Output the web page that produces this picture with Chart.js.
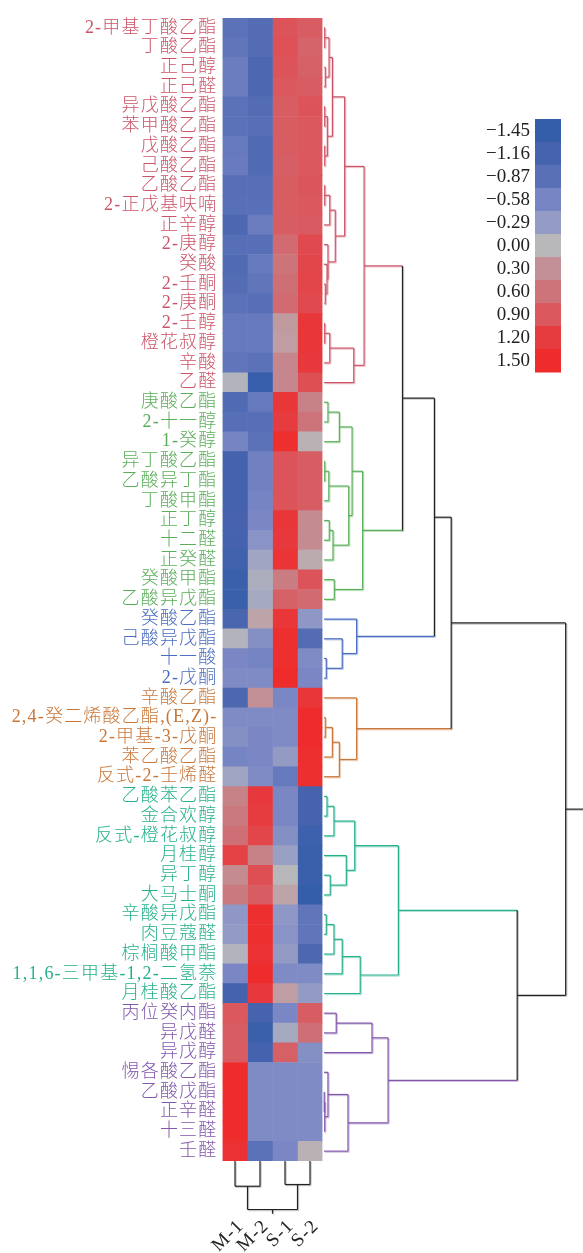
<!DOCTYPE html>
<html><head><meta charset="utf-8">
<script src="https://cdn.jsdelivr.net/npm/chart.js@4.4.0/dist/chart.umd.min.js"></script>
<style>html,body{margin:0;padding:0;background:#fff}#wrap{width:583px;height:1253px;position:relative}</style>
</head><body><div id="wrap"><canvas id="c"></canvas></div>
<script>
const rowLabels = ['2-甲基丁酸乙酯','丁酸乙酯','正己醇','正己醛','异戊酸乙酯','苯甲酸乙酯','戊酸乙酯','己酸乙酯','乙酸乙酯','2-正戊基呋喃','正辛醇','2-庚醇','癸酸','2-壬酮','2-庚酮','2-壬醇','橙花叔醇','辛酸','乙醛',
 '庚酸乙酯','2-十一醇','1-癸醇','异丁酸乙酯','乙酸异丁酯','丁酸甲酯','正丁醇','十二醛','正癸醛','癸酸甲酯','乙酸异戊酯',
 '癸酸乙酯','己酸异戊酯','十一酸','2-戊酮',
 '辛酸乙酯','2,4-癸二烯酸乙酯,(E,Z)-','2-甲基-3-戊酮','苯乙酸乙酯','反式-2-壬烯醛',
 '乙酸苯乙酯','金合欢醇','反式-橙花叔醇','月桂醇','异丁醇','大马士酮','辛酸异戊酯','肉豆蔻醛','棕榈酸甲酯','1,1,6-三甲基-1,2-二氢萘','月桂酸乙酯',
 '丙位癸内酯','异戊醛','异戊醇','惕各酸乙酯','乙酸戊酯','正辛醛','十三醛','壬醛'];
const rowGroups = [0,0,0,0,0,0,0,0,0,0,0,0,0,0,0,0,0,0,0, 1,1,1,1,1,1,1,1,1,1,1, 2,2,2,2, 3,3,3,3,3, 4,4,4,4,4,4,4,4,4,4,4, 5,5,5,5,5,5,5,5];
const colLabels = ['M-1','M-2','S-1','S-2'];
const M1 = [-0.85,-0.8,-0.7,-0.7,-0.85,-0.85,-0.75,-0.72,-0.9,-0.88,-1.05,-0.9,-1.0,-0.95,-0.85,-0.75,-0.75,-0.8,-0.05,
 -1.0,-0.9,-0.6,-1.2,-1.2,-1.2,-1.15,-1.2,-1.25,-1.35,-1.35,
 -1.1,-0.05,-0.55,-0.5,
 -1.05,-0.5,-0.45,-0.6,-0.2,
 0.45,0.55,0.65,1.15,0.35,0.55,-0.35,-0.3,-0.05,-0.55,-1.2,
 0.9,0.85,0.85,1.5,1.5,1.5,1.5,1.4];
const M2 = [-0.95,-0.95,-1.05,-1.05,-0.95,-0.9,-1.0,-1.0,-0.9,-0.88,-0.7,-0.9,-0.75,-0.8,-0.9,-0.75,-0.75,-0.85,-1.4,
 -0.75,-0.9,-0.85,-0.65,-0.65,-0.6,-0.55,-0.4,-0.2,-0.1,-0.15,
 0.15,-0.45,-0.6,-0.5,
 0.3,-0.5,-0.55,-0.55,-0.5,
 1.25,1.2,1.1,0.45,1.0,0.85,1.45,1.45,1.4,1.5,1.25,
 -1.15,-1.35,-1.2,-0.5,-0.5,-0.5,-0.5,-0.85];
const S1 = [0.95,0.98,0.95,0.9,0.85,0.85,0.85,0.82,0.85,0.85,0.85,0.7,0.6,0.65,0.7,0.22,0.2,0.4,0.4,
 1.3,1.2,1.45,0.95,0.95,0.95,1.3,1.25,1.35,0.5,0.8,
 1.3,1.45,1.45,1.5,
 -0.55,-0.5,-0.5,-0.3,-0.75,
 -0.55,-0.55,-0.45,-0.25,0.0,0.15,-0.35,-0.4,-0.3,-0.5,0.2,
 -0.55,-0.15,0.8,-0.5,-0.5,-0.5,-0.5,-0.55];
const S2 = [0.85,0.77,0.8,0.85,0.95,0.9,0.9,0.9,0.92,0.9,0.88,1.05,1.1,1.1,1.05,1.3,1.3,1.25,1.0,
 0.45,0.6,0.05,0.85,0.85,0.85,0.35,0.35,0.1,0.95,0.7,
 -0.35,-0.95,-0.5,-0.55,
 1.3,1.5,1.5,1.45,1.45,
 -1.15,-1.15,-1.3,-1.35,-1.35,-1.45,-0.8,-0.8,-1.05,-0.5,-0.3,
 0.85,0.65,-0.45,-0.5,-0.5,-0.5,-0.5,0.05];
const legendTicks = [-1.45,-1.16,-0.87,-0.58,-0.29,0.00,0.30,0.60,0.90,1.20,1.50];
const legendColors = ['#345eaa','#4663ad','#5970b7','#7785c4','#949cc5','#b8b8ba','#c29096','#cc747a','#da585e','#e63c40','#ee2c2c'];
const groupColors = ['#cc5468','#5aae5a','#4a6cc0','#c8773a','#26b08c','#8157ab'];
// row linkage: [childA, childB, height]; ids >= 58 refer to earlier merges (58 + k)
const rowLinkage = [
 [0,1,0.3],[2,3,0.55],[58,59,2.1],[4,5,0.3],[6,7,0.3],[61,62,1.4],[60,63,3.5],[8,9,0.3],[65,10,2.4],[13,14,0.55],[12,67,1.25],[11,68,1.65],[66,69,4.7],[64,70,8.6],[15,16,0.3],[72,17,2.4],[73,18,12.4],[71,74,16.7],
 [19,20,1.65],[76,21,6.4],[22,23,0.3],[78,24,2.0],[25,26,2.2],[80,27,3.75],[79,81,10.3],[77,82,11.7],[28,29,4.3],[83,84,16.1],
 [32,33,0.95],[31,86,7.6],[30,87,13.6],
 [35,36,0.55],[89,37,3.5],[90,38,6.4],[34,91,13.6],
 [39,40,1.25],[93,41,4.15],[43,44,2.6],[42,95,9.3],[94,96,12.8],[45,46,0.95],[98,47,4.15],[99,48,7.6],[100,49,15.1],[97,101,31.0],
 [50,51,5.1],[103,52,20],[54,55,0.1],[105,56,0.3],[53,106,1.65],[107,57,10],[104,108,26.7],
 [75,85,32.7],[110,88,46],[111,92,53],[102,109,80.5],[112,113,100.7]];
// column linkage: ids >= 4 refer to earlier merges
const colLinkage = [[0,1,10.3],[2,3,9.6],[4,5,19.8]];

const values = [M1, M2, S1, S2];
function hexToRgb(h){return [parseInt(h.substr(1,2),16),parseInt(h.substr(3,2),16),parseInt(h.substr(5,2),16)];}
function colorFor(v){
  const t = legendTicks, c = legendColors.map(hexToRgb);
  if (v <= t[0]) return legendColors[0];
  if (v >= t[t.length-1]) return legendColors[t.length-1];
  for (let i=0;i<t.length-1;i++){
    if (v>=t[i] && v<=t[i+1]){
      const f=(v-t[i])/(t[i+1]-t[i]);
      const r=c[i].map((x,j)=>Math.round(x+(c[i+1][j]-x)*f));
      return `rgb(${r[0]},${r[1]},${r[2]})`;
    }
  }
}
const SERIF = "'Liberation Serif','Noto Sans CJK SC',serif";

const dendroPlugin = {
  id:'dendro',
  beforeDraw(chart){
    const ctx=chart.ctx;
    ctx.save(); ctx.fillStyle='#fff'; ctx.fillRect(0,0,chart.width,chart.height); ctx.restore();
    ctx.letterSpacing='1.2px';
  },
  afterDraw(chart){
    const ctx=chart.ctx; ctx.letterSpacing='0px';
    const ys=chart.scales.y, xs=chart.scales.x, a=chart.chartArea;
    const N=rowLabels.length;
    const K=2.4, x0=a.right+1.5;
    const hx=h=>x0+h*K;
    const nodes=[];
    for(let i=0;i<N;i++) nodes.push({y:ys.getPixelForValue(i),h:0,g:rowGroups[i]});
    const segs=[];
    rowLinkage.forEach(([p,q,h])=>{
      const A=nodes[p],B=nodes[q];
      const g=(A.g===B.g)?A.g:-1;
      segs.push([hx(A.h),A.y,hx(h),A.y,A.g]);
      segs.push([hx(B.h),B.y,hx(h),B.y,B.g]);
      segs.push([hx(h),A.y,hx(h),B.y,g]);
      nodes.push({y:(A.y+B.y)/2,h:h,g:g});
    });
    const root=nodes[nodes.length-1];
    segs.push([hx(root.h),root.y,chart.width,root.y,-1]);
    const K2=2.45, y0=a.bottom;
    const vy=h=>y0+h*K2;
    const cn=[];
    for(let c=0;c<colLabels.length;c++) cn.push({x:xs.getPixelForValue(c+0.5),h:0});
    colLinkage.forEach(([p,q,h])=>{
      const A=cn[p],B=cn[q];
      segs.push([A.x,vy(A.h),A.x,vy(h),-1]);
      segs.push([B.x,vy(B.h),B.x,vy(h),-1]);
      segs.push([A.x,vy(h),B.x,vy(h),-1]);
      cn.push({x:(A.x+B.x)/2,h:h});
    });
    const cr=cn[cn.length-1];
    segs.push([cr.x,vy(cr.h),cr.x,vy(cr.h)+4.2,-1]);
    ctx.save();
    ctx.lineCap='butt';
    segs.forEach(s=>{
      ctx.strokeStyle=s[4]<0?'rgba(0,0,0,0.22)':groupColors[s[4]];
      ctx.globalAlpha=s[4]<0?1:0.35;
      ctx.lineWidth=1.4;
      ctx.beginPath();ctx.moveTo(s[0]+1,s[1]+1);ctx.lineTo(s[2]+1,s[3]+1);ctx.stroke();
    });
    ctx.globalAlpha=1;
    segs.forEach(s=>{
      ctx.strokeStyle=s[4]<0?'#222':groupColors[s[4]];
      ctx.lineWidth=1.2;
      ctx.beginPath();ctx.moveTo(s[0],s[1]);ctx.lineTo(s[2],s[3]);ctx.stroke();
    });
    const bx=535,bw=26,by=119,bh=23;
    ctx.font=`19px ${SERIF}`;ctx.textAlign='right';ctx.textBaseline='middle';ctx.fillStyle='#222';
    legendTicks.forEach((t,i)=>{
      ctx.fillStyle=legendColors[i];
      ctx.fillRect(bx,by+i*bh,bw,bh+0.5);
      ctx.fillStyle='#222';
      const lab=(t<0?'\u2212':'')+Math.abs(t).toFixed(2);
      ctx.fillText(lab,bx-5,by+i*bh+bh/2+1);
    });
    ctx.restore();
  }
};

new Chart(document.getElementById('c'),{
  type:'bar',
  data:{
    labels:rowLabels,
    datasets:values.map((vals,c)=>({
      label:colLabels[c],
      data:vals.map(()=>[c,c+1]),
      backgroundColor:vals.map(colorFor),
      borderWidth:0,
      barPercentage:1,categoryPercentage:1,grouped:false
    }))
  },
  options:{
    indexAxis:'y',
    responsive:true,maintainAspectRatio:false,animation:false,devicePixelRatio:1,
    layout:{padding:{left:0,right:260.5,top:18,bottom:0}},
    plugins:{legend:{display:false},tooltip:{enabled:false}},
    scales:{
      y:{
        type:'category',
        grid:{display:false,drawTicks:false,tickLength:0},border:{display:false},
        ticks:{autoSkip:false,padding:5,font:{family:SERIF,size:18,weight:'300'},
          color:(ctx)=>groupColors[rowGroups[ctx.index]]},
        afterFit:(s)=>{s.width=222.5;}
      },
      x:{
        type:'linear',min:0,max:colLabels.length,
        grid:{display:false,drawTicks:false,tickLength:0},border:{display:false},
        afterBuildTicks:(s)=>{s.ticks=colLabels.map((_,i)=>({value:i+0.5}));},
        ticks:{autoSkip:false,minRotation:45,maxRotation:45,padding:54,labelOffset:6,color:'#222',
          font:{family:SERIF,size:19},callback:(v,i)=>colLabels[i]},
        afterFit:(s)=>{s.height=92;}
      }
    }
  },
  plugins:[dendroPlugin]
});
</script></body></html>
